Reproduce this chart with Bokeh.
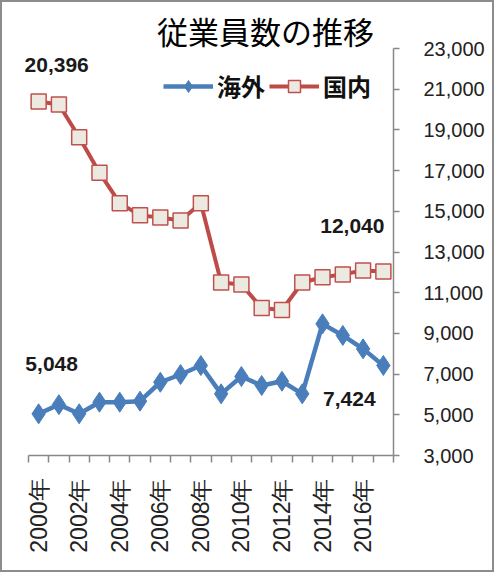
import math
from bokeh.plotting import figure
from bokeh.models import FixedTicker, NumeralTickFormatter, Range1d, Label, Legend, LegendItem
from bokeh.embed import file_html
from bokeh.resources import INLINE

# ---- data ----
years = list(range(2000, 2018))
overseas = [5048, 5500, 5050, 5620, 5620, 5670, 6600, 6980, 7420, 6030,
            6880, 6440, 6650, 6030, 9470, 8900, 8240, 7424]
domestic = [20396, 20250, 18640, 16900, 15400, 14800, 14700, 14550, 15400, 11500,
            11400, 10250, 10150, 11500, 11760, 11900, 12090, 12040]
y_ticks = list(range(3000, 23001, 2000))
label_years = years[::2]
series_names = ["海外", "国内"]
title_text = "従業員数の推移"

BLUE = "#4A7EBB"
RED = "#BE4B48"

# layout (px): frame spans whole canvas area so annotations are not clipped
W, H = 494, 572
FL, FR, FT, FB = 8, 391, 8, 453          # frame edges in canvas px
axis_x0, axis_x1 = years[0] - 0.5, years[-1] + 0.5
cat_px = 365 / len(years)
x_lo = axis_x1 - (FR - FL) / cat_px
y_px_per = 407 / (y_ticks[-1] - y_ticks[0])
y_hi = y_ticks[0] + (FB - FT) / y_px_per

p = figure(width=W, height=H, output_backend="svg", toolbar_location=None,
           x_range=Range1d(x_lo, axis_x1),
           y_range=Range1d(y_ticks[0], y_hi),
           y_axis_location="right",
           min_border_left=FL, min_border_right=W - FR,
           min_border_top=FT, min_border_bottom=H - FB,
           styles={"border": "2px solid #8c8c8c"})
p.background_fill_color = "white"
p.border_fill_color = "white"
p.outline_line_color = None
p.xgrid.visible = False
p.ygrid.visible = False

# x axis
xa = p.xaxis[0]
xa.bounds = (axis_x0, axis_x1)
xa.ticker = FixedTicker(ticks=label_years,
                        minor_ticks=[y - 0.5 for y in years] + [years[-1] + 0.5])
xa.major_label_overrides = {y: f"{y}年" for y in label_years}
xa.major_label_orientation = math.pi / 2
xa.major_tick_out = 0
xa.major_tick_in = 0
xa.minor_tick_out = 7
xa.minor_tick_in = 0
xa.minor_tick_line_color = "#888888"
xa.minor_tick_line_width = 1.5
xa.axis_line_color = "#888888"
xa.axis_line_width = 1.5
xa.major_label_text_font = "Liberation Sans"
xa.major_label_text_font_size = "23px"
xa.major_label_text_color = "#222222"
xa.major_label_standoff = 16

# y axis (right)
ya = p.yaxis[0]
ya.bounds = (y_ticks[0], y_ticks[-1])
ya.ticker = FixedTicker(ticks=y_ticks)
ya.formatter = NumeralTickFormatter(format="0,0")
ya.major_tick_out = 6
ya.major_tick_in = 0
ya.minor_tick_out = 0
ya.minor_tick_in = 0
ya.major_tick_line_color = "#888888"
ya.major_tick_line_width = 1.5
ya.axis_line_color = "#888888"
ya.axis_line_width = 1.5
ya.major_label_text_font = "Liberation Sans"
ya.major_label_text_font_size = "20px"
ya.major_label_text_color = "#222222"
ya.major_label_standoff = 24

# series
r_dom_line = p.line(years, domestic, line_color=RED, line_width=4)
r_dom_pts = p.scatter(years, domestic, marker="square", size=15,
                      fill_color="#ECEAE0", line_color="#C0504D", line_width=1.5)
r_ov_line = p.line(years, overseas, line_color=BLUE, line_width=4.5)
r_ov_pts = p.scatter(years, overseas, marker="diamond", size=20,
                     fill_color=BLUE, line_color=BLUE)

legend = Legend(items=[LegendItem(label=series_names[0], renderers=[r_ov_line, r_ov_pts]),
                       LegendItem(label=series_names[1], renderers=[r_dom_line, r_dom_pts])],
                orientation="horizontal", location=(153, 352),
                glyph_width=50, glyph_height=30, label_standoff=4, spacing=4,
                padding=0, margin=0, border_line_color=None, background_fill_alpha=0,
                label_text_font="Noto Sans CJK JP", label_text_font_size="24px",
                label_text_font_style="bold", label_text_color="#111111")
p.add_layout(legend)

# value annotations
def ann(x, y, dx, dy):
    p.add_layout(Label(x=x, y=y, text=f"{y:,}", x_offset=dx, y_offset=dy,
                       text_align="center", text_baseline="middle",
                       text_font="Liberation Sans", text_font_size="21px",
                       text_font_style="bold", text_color="#1a1a1a"))

ann(years[0], domestic[0], 18, 36)
ann(years[-1], domestic[-1], -31, 46)
ann(years[0], overseas[0], 13, 50)
ann(years[-1], overseas[-1], -34, -34)

p.add_layout(Label(x=255, y=425, x_units="screen", y_units="screen", text=title_text,
                   text_align="center", text_baseline="middle",
                   text_font="Noto Sans CJK JP", text_font_size="31px",
                   text_color="#000000"))

open("out.html", "w").write(file_html(p, INLINE))
